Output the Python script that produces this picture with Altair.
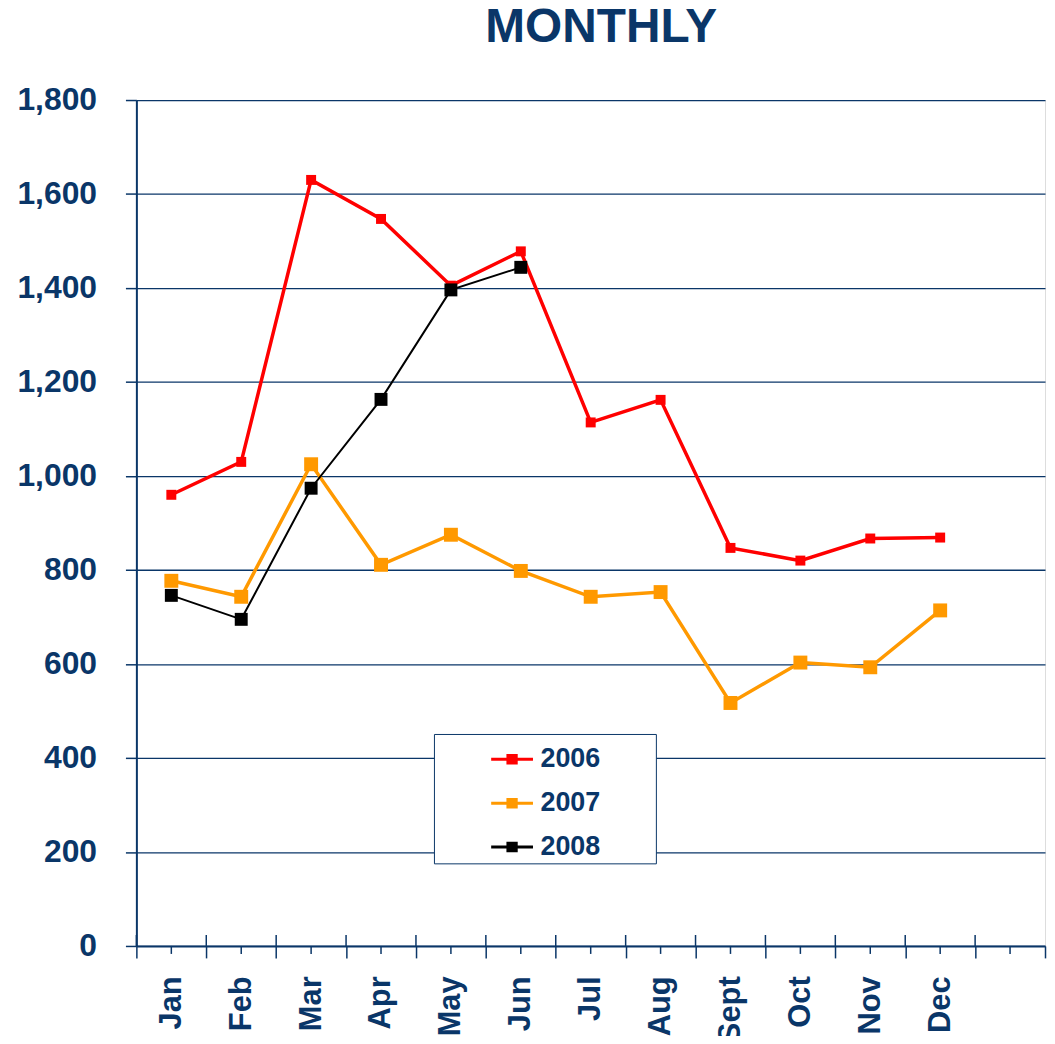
import altair as alt
import pandas as pd

title_text = ["MONTHLY"]
months = ["Jan", "Feb", "Mar", "Apr", "May", "Jun", "Jul", "Aug", "Sept", "Oct", "Nov", "Dec"]
slots = months + [" "]
years = ["2006", "2007", "2008"]
v2006 = [960, 1030, 1630, 1547, 1405, 1478, 1114, 1162, 847, 820, 867, 869]
v2007 = [777, 743, 1025, 811, 875, 798, 743, 753, 517, 603, 593, 714]
v2008 = [746, 695, 974, 1163, 1396, 1444]
colors = ["#FF0000", "#FF9900", "#000000"]
line_widths = [3.5, 3.5, 2]
square_sizes = [100, 196, 169]
y_ticks = [0, 200, 400, 600, 800, 1000, 1200, 1400, 1600, 1800]

rows = []
for yr, vals in zip(years, [v2006, v2007, v2008]):
    for m, v in zip(months, vals):
        rows.append({"year": yr, "month": m, "value": v})
df = pd.DataFrame(rows)
slot_df = pd.DataFrame({"month": slots})

NAVY = "#0A3668"
FONT = "Liberation Sans"

xscale = alt.Scale(domain=slots, paddingInner=0, paddingOuter=0)
yscale = alt.Scale(domain=[0, 1800], nice=False)
cscale = alt.Scale(domain=years, range=colors)

x_enc = alt.X(
    "month:N", scale=xscale, sort=None, title=None,
    axis=alt.Axis(
        labelAngle=-90, labelFont=FONT, labelFontSize=31, labelFontWeight="bold",
        labelColor=NAVY, labelPadding=18, tickBand="extent", tickSize=12,
        tickColor=NAVY, tickWidth=1.5, domainColor=NAVY, domainWidth=2, grid=False,
    ),
)
y_enc = alt.Y(
    "value:Q", scale=yscale, title=None,
    axis=alt.Axis(
        values=y_ticks, format=",d", labelFont=FONT, labelFontSize=32,
        labelFontWeight="bold", labelColor=NAVY, labelPadding=29, tickSize=11,
        tickColor=NAVY, tickWidth=1.5, domainColor=NAVY, domainWidth=2,
        grid=True, gridColor=NAVY, gridWidth=1.3,
    ),
)

# legend symbol: a horizontal line with a (stroked-solid) square in the middle
sym = "M-1,0H1M-0.27,-0.18H0.27M-0.27,-0.06H0.27M-0.27,0.06H0.27M-0.27,0.18H0.27"
pad = "\u00a0" * 7 + "\u200b"
legend = alt.Legend(
    title=None, orient="none", legendX=299, legendY=637,
    fillColor="white", strokeColor=NAVY, padding=3, rowPadding=8,
    symbolType=sym, symbolSize=1764, symbolStrokeWidth=3,
    symbolOffset=53, labelOffset=6,
    labelFont=FONT, labelFontSize=27, labelFontWeight="bold", labelColor=NAVY,
    labelExpr="datum.label + '" + pad + "'",
)

layers = []
for i, yr in enumerate(years):
    layers.append(
        alt.Chart(df).transform_filter(alt.datum.year == yr).mark_line(strokeWidth=line_widths[i]).encode(
            x=x_enc, y=y_enc,
            stroke=alt.Stroke("year:N", scale=cscale, legend=legend if i == 0 else None),
        )
    )
for i, yr in enumerate(years):
    layers.append(
        alt.Chart(df).transform_filter(alt.datum.year == yr).mark_square(
            size=square_sizes[i], opacity=1, strokeWidth=0, filled=True
        ).encode(
            x=x_enc, y=y_enc,
            fill=alt.Fill("year:N", scale=cscale, legend=None),
        )
    )

minor = alt.Chart(slot_df).mark_rule(color=NAVY, strokeWidth=1.5).encode(
    x=alt.X("month:N", scale=xscale, sort=None),
    y=alt.value(850), y2=alt.value(858),
)
major_up = alt.Chart(slot_df).mark_rule(color=NAVY, strokeWidth=1.5).encode(
    x=alt.X("month:N", scale=xscale, sort=None, bandPosition=0),
    y=alt.value(839), y2=alt.value(850),
)
title = alt.Chart(pd.DataFrame({"t": title_text})).mark_text(
    font=FONT, fontSize=48, fontWeight="bold", color=NAVY,
    align="center", baseline="alphabetic",
).encode(x=alt.value(467), y=alt.value(-58), text="t:N")

chart = alt.layer(*layers, minor, major_up, title).properties(
    width=913, height=850,
    autosize=alt.AutoSizeParams(type="none"),
    padding={"left": 129, "top": 90, "right": 2, "bottom": 88},
).configure_view(stroke=NAVY, strokeWidth=1.5).configure(background="white")

chart.save("out.html", embed_options={"renderer": "svg", "actions": False})
